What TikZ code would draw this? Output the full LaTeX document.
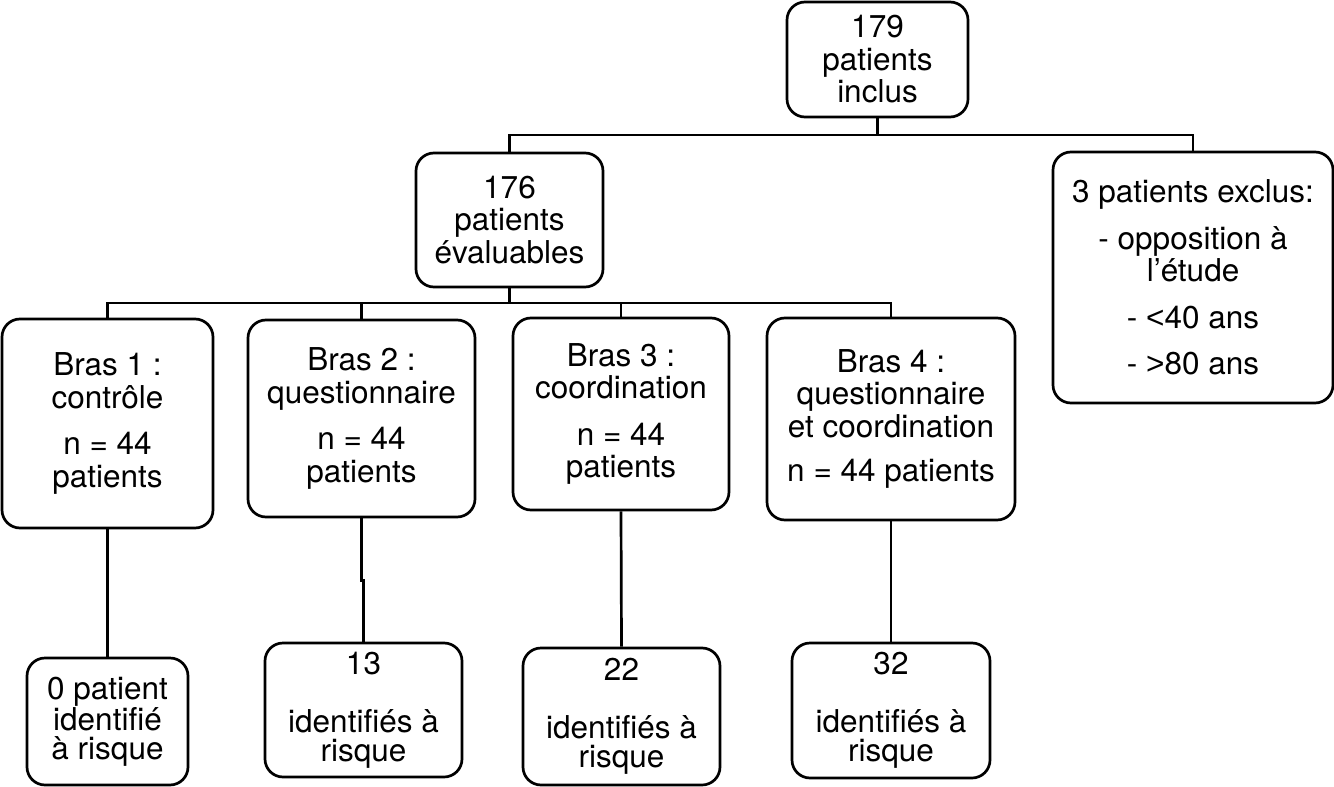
\documentclass[tikz,border=0pt]{standalone}
\usepackage{fontspec}
\setmainfont{TeX Gyre Heros}
\newfontfamily\symfont{Liberation Sans}
\begin{document}
\begin{tikzpicture}[x=1pt,y=-1pt,
  box/.style={draw=black, line width=2.7pt, rounded corners=18pt, fill=white,
    align=center, inner sep=0pt, font=\fontsize{31.5}{32.5}\selectfont},
  resbox/.style={box, font=\fontsize{31.5}{29}\selectfont},
  link/.style={draw=black, line width=2.7pt}]
\useasboundingbox (0,0) rectangle (1334,787);
% top level
\node[box, minimum width=181pt, minimum height=115pt] (top) at (877.5,59.5) {179\\patients\\inclus};
\node[box, minimum width=187pt, minimum height=134pt] (eval) at (509.5,220) {176\\patients\\évaluables};
\node[box, minimum width=280pt, minimum height=251pt] (excl) at (1193,277.5)
  {3 patients exclus:\\[14pt]- opposition à\\l’étude\\[14pt]- {\symfont <}40 ans\\[14pt]- {\symfont >}80 ans};
% arms
\node[box, minimum width=211pt, minimum height=209pt] (b1) at (107.5,423.5) {Bras 1 :\\contrôle\\[14pt]n = 44\\patients};
\node[box, minimum width=227pt, minimum height=197pt] (b2) at (361.5,418.5) {Bras 2 :\\questionnaire\\[14pt]n = 44\\patients};
\node[box, minimum width=216pt, minimum height=192pt] (b3) at (621,414) {Bras 3 :\\coordination\\[14pt]n = 44\\patients};
\node[box, minimum width=248pt, minimum height=202pt] (b4) at (891,419) {Bras 4 :\\questionnaire\\et coordination\\[12pt]n = 44 patients};
% results
\node[resbox, minimum width=161pt, minimum height=127pt] (r1) at (107.5,721.5) {0 patient\\identifié\\à risque};
\node[resbox, minimum width=197pt, minimum height=134pt] (r2) at (363.5,710) {13\\[29pt]identifiés à\\risque};
\node[resbox, minimum width=197pt, minimum height=137pt] (r3) at (621.5,716.5) {22\\[29pt]identifiés à\\risque};
\node[resbox, minimum width=198pt, minimum height=135pt] (r4) at (891,710.5) {32\\[29pt]identifiés à\\risque};
% connectors
\coordinate (j1) at (877.5,135);
\coordinate (j2) at (509.5,303);
\path[link] (top.south) -- (j1);
\path[link] (eval.north) -- (eval.north |- j1) -- (excl.north |- j1) -- (excl.north);
\path[link] (eval.south) -- (j2);
\path[link] (b1.north) -- (b1.north |- j2) -- (b4.north |- j2) -- (b4.north);
\path[link] (b2.north) -- (b2.north |- j2);
\path[link] (b3.north) -- (b3.north |- j2);
\path[link] (b1.south) -- (r1.north);
\path[link] (b2.south) -- ++(0,62) -| (r2.north);
\path[link] (b3.south) -- (r3.north);
\path[link] (b4.south) -- (r4.north);
\end{tikzpicture}
\end{document}
